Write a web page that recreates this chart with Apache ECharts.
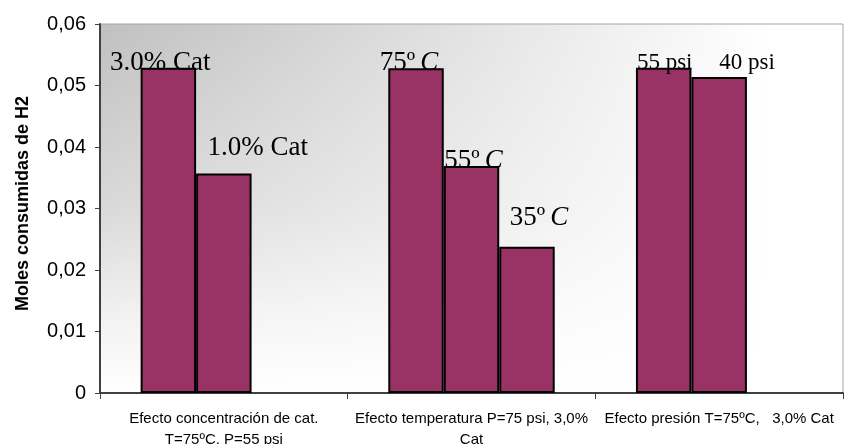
<!DOCTYPE html>
<html>
<head>
<meta charset="utf-8">
<script src="https://cdn.jsdelivr.net/npm/echarts@6/dist/echarts.min.js"></script>
<style>
  html, body { margin: 0; padding: 0; background: #ffffff; }
  #chart { width: 844px; height: 444px; }
</style>
</head>
<body>
<div id="chart"></div>
<script>
// Hydrogen uptake (moles of H2) for three parameter studies
const categories = [
  'Efecto concentración de cat.\nT=75ºC, P=55 psi',
  'Efecto temperatura P=75 psi, 3,0%\nCat',
  'Efecto presión T=75ºC,   3,0% Cat'
];
const valuesFirst  = [0.0529, 0.0528, 0.0529];
const valuesSecond = [0.0357, 0.0369, 0.0514];
const valuesThird  = [null, 0.0238, null];

const labelsFirst  = ['3.0% Cat', '75º C', '55 psi'];
const labelsSecond = ['1.0% Cat', '55º C', '40 psi'];
const labelsThird  = [null, '35º C', null];

const yTicks = { min: 0, max: 0.06, step: 0.01 };

// label placement / size per bar (styling only)
const offsetsFirst  = [[-8, 9], [-7, 8], [1, 7]];
const offsetsSecond = [[34, -12], [2, 8], [28, -2]];
const offsetsThird  = [[0, 0], [12, -15], [0, 0]];
const sizesFirst  = [27, 27, 23];
const sizesSecond = [27, 27, 23];
const sizesThird  = [27, 27, 23];

const BAR_COLOR = '#993366';

function buildData(values, labels, offsets, sizes) {
  return values.map((v, i) => ({
    value: v == null ? '-' : v,
    label: {
      show: v != null,
      offset: offsets[i],
      fontSize: sizes[i],
      formatter: () => {
        const t = labels[i] || '';
        // temperature unit "C" is set in italics
        return t.replace(/º C$/, 'º{i|C}');
      },
      rich: {
        i: {
          fontStyle: 'italic',
          fontSize: sizes[i],
          fontFamily: 'Liberation Serif',
          color: '#000',
          padding: [0, 0, 0, 5]
        }
      }
    }
  }));
}

const barLabel = {
  show: true,
  position: 'top',
  distance: 0,
  fontFamily: 'Liberation Serif',
  color: '#000'
};

function barSeries(name, data) {
  return {
    name: name,
    type: 'bar',
    xAxisIndex: 0,
    yAxisIndex: 0,
    barWidth: '22.4%',
    barGap: '0%',
    data: data,
    itemStyle: { color: BAR_COLOR, borderColor: '#000', borderWidth: 2 },
    label: barLabel,
    emphasis: { disabled: true }
  };
}

const chart = echarts.init(document.getElementById('chart'), null, { renderer: 'canvas' });

chart.setOption({
  animation: false,
  backgroundColor: '#ffffff',
  grid: [
    {
      // plot area: grey at the top fading to white at the bottom
      left: 100, right: 1, top: 24, bottom: 51,
      containLabel: false,
      outerBoundsMode: 'none',
      show: true,
      borderWidth: 0,
      backgroundColor: new echarts.graphic.LinearGradient(0, 0, 0, 1, [
        { offset: 0, color: '#c0c0c0' },
        { offset: 0.5, color: '#d9d9d9' },
        { offset: 0.8, color: '#f2f2f2' },
        { offset: 1, color: '#ffffff' }
      ])
    },
    {
      // horizontal fade to white towards the right side
      left: 100, right: 1, top: 24, bottom: 51,
      containLabel: false,
      outerBoundsMode: 'none',
      show: true,
      borderColor: '#a6a6a6',
      borderWidth: 1,
      backgroundColor: new echarts.graphic.LinearGradient(0, 0, 1, 0, [
        { offset: 0, color: 'rgba(255,255,255,0)' },
        { offset: 0.9, color: 'rgba(255,255,255,1)' },
        { offset: 1, color: 'rgba(255,255,255,1)' }
      ])
    }
  ],
  xAxis: {
    type: 'category',
    gridIndex: 0,
    data: categories,
    boundaryGap: true,
    axisLine: { show: true, lineStyle: { color: '#404040', width: 2 } },
    axisTick: { show: true, alignWithLabel: false, length: 6, lineStyle: { color: '#404040', width: 1 } },
    axisLabel: {
      interval: 0,
      margin: 15,
      color: '#000',
      fontFamily: 'Liberation Sans',
      fontSize: 15,
      lineHeight: 21,
      align: 'center'
    },
    splitLine: { show: false }
  },
  yAxis: {
    type: 'value',
    gridIndex: 0,
    min: yTicks.min,
    max: yTicks.max,
    interval: yTicks.step,
    name: 'Moles consumidas de H2',
    nameLocation: 'middle',
    nameGap: 68,
    nameRotate: 90,
    nameTextStyle: {
      fontFamily: 'Liberation Sans',
      fontWeight: 'bold',
      fontSize: 18,
      color: '#000',
      padding: [0, 0, 0, 10]
    },
    axisLine: { show: true, lineStyle: { color: '#404040', width: 2 } },
    axisTick: { show: true, length: 5, lineStyle: { color: '#404040', width: 1 } },
    axisLabel: {
      margin: 14,
      color: '#000',
      fontFamily: 'Liberation Sans',
      fontSize: 20,
      formatter: v => (v === 0 ? '0' : v.toFixed(2).replace('.', ','))
    },
    splitLine: { show: false }
  },
  series: [
    barSeries('Serie 1', buildData(valuesFirst, labelsFirst, offsetsFirst, sizesFirst)),
    barSeries('Serie 2', buildData(valuesSecond, labelsSecond, offsetsSecond, sizesSecond)),
    barSeries('Serie 3', buildData(valuesThird, labelsThird, offsetsThird, sizesThird))
  ]
});
</script>
</body>
</html>
